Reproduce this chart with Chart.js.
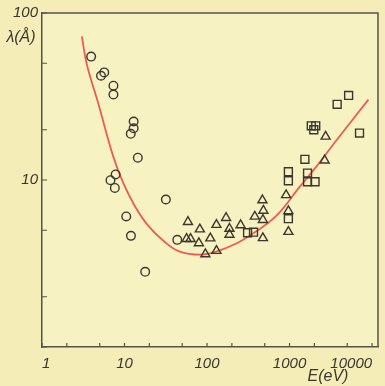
<!DOCTYPE html>
<html>
<head>
<meta charset="utf-8">
<script src="https://cdn.jsdelivr.net/npm/chart.js@4.4.1/dist/chart.umd.min.js"></script>
<style>
  html,body{margin:0;padding:0;background:#f4edb8;}
  #wrap{position:relative;width:385px;height:386px;}
</style>
</head>
<body>
<div id="wrap"><canvas id="c"></canvas></div>
<script>
// Messpunkte (E in eV, lambda in Angstrom)
var CIRCLE_E = [3.94, 5.19, 5.68, 7.34, 7.34, 12.9, 12.9, 11.9, 14.5, 7.8, 6.76, 7.63, 31.7, 10.5, 11.97, 17.8, 43.6];
var CIRCLE_L = [54.8, 42.1, 44.1, 36.7, 32.5, 22.4, 20.4, 18.9, 13.6, 10.8, 9.97, 8.96, 7.64, 6.05, 4.63, 2.82, 4.38];

var TRI_E = [58.7, 56.5, 63.1, 81.8, 79.6, 109.6, 95.4, 130, 130, 170, 187, 187, 255, 379, 469, 482, 475, 475, 908, 968, 968, 2735, 2660];
var TRI_L = [5.61, 4.44, 4.44, 5.07, 4.19, 4.48, 3.60, 5.39, 3.77, 5.93, 5.11, 4.71, 5.37, 6.04, 7.57, 6.56, 5.77, 4.49, 8.13, 6.52, 4.90, 18.2, 13.1];

var SQ_E = [310, 366, 968, 968, 968, 1534, 1652, 1652, 2037, 1834, 2076, 1965, 3777, 5200, 7045];
var SQ_L = [4.83, 4.87, 11.2, 9.9, 5.87, 13.3, 11.0, 9.76, 9.76, 21.1, 21.1, 20.0, 28.4, 32.1, 19.1];

// "universelle Kurve"
var CURVE_E = [3.04, 3.49, 4.81, 7.28, 9.59, 13.2, 19.1, 30.3, 45.8, 83.1, 132, 229, 362, 689, 1310, 2076, 3606, 9030];
var CURVE_L = [72.5, 49.3, 28.7, 13.9, 9.67, 7.04, 5.37, 4.28, 3.74, 3.57, 3.74, 4.18, 4.79, 6.09, 9.03, 11.9, 17.0, 30.3];

var X_TICKS = [1, 2, 5, 10, 20, 50, 100, 200, 500, 1000, 2000, 5000, 10000];
var Y_TICKS = [1, 2, 5, 10, 20, 50, 100];
var X_LABELS = [1, 10, 100, 1000, 10000];
var Y_LABELS = [10, 100];

var INK = "#3b372f", RED = "#ee5b57", PLOT_BG = "#f7f2c2";
var FONT = "'Liberation Sans', Arial, sans-serif";

function pts(xs, ys){ return xs.map(function(x,i){ return {x:x, y:ys[i]}; }); }

// Hintergrund, Rahmen oben/rechts, Ticks nach innen, Achsentitel
var decor = {
  id: "decor",
  beforeDraw: function(chart){
    var ctx = chart.ctx, a = chart.chartArea;
    ctx.save();
    ctx.fillStyle = PLOT_BG;
    ctx.fillRect(a.left, a.top, a.right - a.left, a.bottom - a.top);
    ctx.restore();
  },
  afterDraw: function(chart){
    var ctx = chart.ctx, a = chart.chartArea;
    var xs = chart.scales.x, ys = chart.scales.y;
    ctx.save();
    ctx.strokeStyle = "#57534a"; ctx.lineWidth = 1.5;
    ctx.beginPath();
    ctx.moveTo(a.left, a.top); ctx.lineTo(a.right, a.top); ctx.lineTo(a.right, a.bottom);
    ctx.stroke();
    ctx.lineWidth = 1.2;
    ctx.beginPath();
    X_TICKS.forEach(function(v){ var px = xs.getPixelForValue(v); ctx.moveTo(px, a.bottom); ctx.lineTo(px, a.bottom - 4); });
    Y_TICKS.forEach(function(v){ var py = ys.getPixelForValue(v); ctx.moveTo(a.left, py); ctx.lineTo(a.left + 5, py); });
    ctx.stroke();
    ctx.fillStyle = INK;
    ctx.font = "italic 16px " + FONT;
    ctx.textAlign = "center"; ctx.textBaseline = "middle";
    ctx.fillText("\u03bb(\u00c5)", 21, 38);
    ctx.fillText("E(eV)", 328, 377);
    ctx.restore();
  }
};

var cfg = {
  type: "scatter",
  data: {
    datasets: [
      { label:"curve", type:"line", data: pts(CURVE_E, CURVE_L), borderColor:RED, borderWidth:1.8,
        pointRadius:0, tension:0.4, fill:false, order:2 },
      { label:"circles", data: pts(CIRCLE_E, CIRCLE_L), pointStyle:"circle", pointRadius:4.3,
        borderColor:INK, backgroundColor:"rgba(0,0,0,0)", borderWidth:1.4, order:1 },
      { label:"triangles", data: pts(TRI_E, TRI_L), pointStyle:"triangle", pointRadius:5.2,
        borderColor:INK, backgroundColor:"rgba(0,0,0,0)", borderWidth:1.4, order:1 },
      { label:"squares", data: pts(SQ_E, SQ_L), pointStyle:"rect", pointRadius:5.6,
        borderColor:INK, backgroundColor:"rgba(0,0,0,0)", borderWidth:1.4, order:1 }
    ]
  },
  options: {
    responsive:true, maintainAspectRatio:false, animation:false,
    layout:{ padding:{ top:7, right:2, left:0, bottom:0 } },
    plugins:{ legend:{display:false}, tooltip:{enabled:false} },
    scales:{
      x:{
        type:"logarithmic", min:1, max:11800,
        grid:{ display:false, drawTicks:false },
        border:{ display:true, color:"#57534a", width:1.5 },
        afterBuildTicks:function(s){ s.ticks = X_TICKS.map(function(v){ return {value:v}; }); },
        afterFit:function(s){ s.height = 39; },
        ticks:{ autoSkip:false, maxRotation:0, align:"inner", padding:8, color:INK,
          font:{ family:FONT, size:15, style:"italic" },
          callback:function(v){ return X_LABELS.indexOf(v) >= 0 ? String(v) : ""; } }
      },
      y:{
        type:"logarithmic", min:1, max:100,
        grid:{ display:false, drawTicks:false },
        border:{ display:true, color:"#57534a", width:1.5 },
        afterBuildTicks:function(s){ s.ticks = Y_TICKS.map(function(v){ return {value:v}; }); },
        afterFit:function(s){ s.width = 42; },
        ticks:{ autoSkip:false, padding:4, color:INK,
          font:{ family:FONT, size:15, style:"italic" },
          callback:function(v){ return Y_LABELS.indexOf(v) >= 0 ? String(v) : ""; } }
      }
    }
  },
  plugins:[decor]
};

new Chart(document.getElementById("c"), cfg);
</script>
</body>
</html>
